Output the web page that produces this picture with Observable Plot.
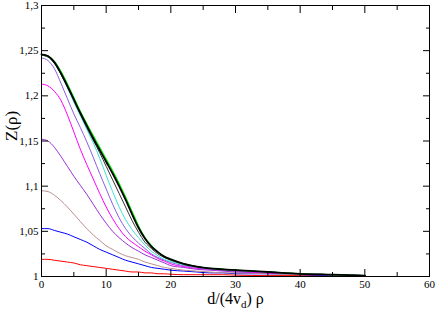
<!DOCTYPE html>
<html><head><meta charset="utf-8">
<script src="https://cdn.jsdelivr.net/npm/d3@7"></script>
<script src="https://cdn.jsdelivr.net/npm/@observablehq/plot@0.6"></script>
<style>
body{margin:0;background:#fff}
#chart svg, #chart svg text { font-family: "Liberation Serif", "Times New Roman", serif !important; }
</style>
</head><body><div id="chart"></div>
<script>
const xs = [0,1,2,3,4,5,6,7,8,9,10,11,12,13,14,15,16,17,18,19,20,22,24,26,28,30,35,40,45,50];
const zRed     = [1.019,1.019,1.018,1.017,1.016,1.015,1.013,1.012,1.011,1.010,1.009,1.008,1.007,1.006,1.005,1.005,1.004,1.004,1.003,1.003,1.0025,1.002,1.002,1.002,1.002,1.0015,1.001,1.001,1.001,1.001];
const zBlue    = [1.053,1.053,1.051,1.049,1.047,1.044,1.041,1.038,1.034,1.030,1.027,1.024,1.021,1.018,1.016,1.014,1.012,1.010,1.009,1.008,1.007,1.006,1.005,1.004,1.004,1.003,1.003,1.002,1.001,1.001];
const zBrown   = [1.095,1.094,1.090,1.084,1.077,1.069,1.061,1.053,1.046,1.040,1.034,1.030,1.026,1.023,1.021,1.019,1.016,1.014,1.012,1.010,1.009,1.007,1.006,1.005,1.004,1.004,1.003,1.002,1.002,1.001];
const zViolet  = [1.152,1.150,1.143,1.133,1.122,1.111,1.101,1.091,1.080,1.069,1.059,1.050,1.043,1.037,1.032,1.028,1.024,1.021,1.018,1.015,1.012,1.010,1.008,1.007,1.006,1.005,1.004,1.003,1.002,1.001];
const zMagenta = [1.213,1.211,1.205,1.195,1.179,1.160,1.141,1.124,1.108,1.092,1.077,1.064,1.053,1.044,1.038,1.033,1.028,1.024,1.020,1.017,1.014,1.011,1.009,1.008,1.007,1.006,1.004,1.003,1.002,1.001];
const zPurple  = [1.242,1.239,1.230,1.214,1.197,1.180,1.165,1.149,1.132,1.114,1.097,1.080,1.065,1.053,1.044,1.037,1.031,1.025,1.021,1.018,1.0155,1.012,1.010,1.008,1.007,1.006,1.005,1.003,1.002,1.001];
const zCyan    = [1.245,1.243,1.236,1.224,1.209,1.193,1.178,1.163,1.148,1.131,1.112,1.094,1.077,1.063,1.052,1.043,1.035,1.028,1.023,1.019,1.0165,1.013,1.011,1.009,1.008,1.007,1.005,1.003,1.002,1.001];
const zDark    = [1.245,1.243,1.236,1.224,1.210,1.195,1.180,1.165,1.151,1.137,1.122,1.107,1.092,1.077,1.062,1.049,1.038,1.031,1.025,1.021,1.018,1.014,1.011,1.009,1.008,1.007,1.005,1.003,1.002,1.001];
const zGreen   = [1.246,1.244,1.238,1.227,1.213,1.198,1.183,1.169,1.156,1.143,1.130,1.117,1.103,1.088,1.072,1.056,1.043,1.034,1.027,1.022,1.019,1.014,1.011,1.009,1.008,1.007,1.005,1.003,1.002,1.001];
const zBlack   = [1.246,1.244,1.237,1.225,1.211,1.196,1.181,1.167,1.153,1.140,1.127,1.114,1.100,1.085,1.069,1.054,1.042,1.033,1.027,1.022,1.019,1.014,1.011,1.009,1.008,1.007,1.005,1.003,1.002,1.001];

const xMajor = [0,10,20,30,40,50,60];
const xMinor = [5,15,25,35,45,55];
const yMajor = [1,1.05,1.1,1.15,1.2,1.25,1.3];
const yMinor = [1.025,1.075,1.125,1.175,1.225,1.275];
const yLabels = ["1","1,05","1,1","1,15","1,2","1,25","1,3"];
const xLabel = "d/(4vd) ρ";
const yLabel = "Z(ρ)";

const series = [
  {name:"red", color:"#ff0000", w:1, values:zRed},
  {name:"blue", color:"#0000ff", w:1, values:zBlue},
  {name:"brown", color:"#bc8f8f", w:1, values:zBrown},
  {name:"violet", color:"#9a30d6", w:1, values:zViolet},
  {name:"magenta", color:"#ff00ff", w:1, values:zMagenta},
  {name:"purple", color:"#8a5ee0", w:1, values:zPurple},
  {name:"cyan", color:"#40e0d0", w:1, values:zCyan},
  {name:"dark", color:"#333333", w:1, values:zDark},
  {name:"green", color:"#00ee00", w:1.3, values:zGreen},
  {name:"black", color:"#000000", w:1.8, values:zBlack}
];

const lineMarks = series.map(s => Plot.line(xs.map((x,i)=>({x, y:s.values[i]})), {
  x:"x", y:"y", stroke:s.color, strokeWidth:s.w, curve:"monotone-x"
}));

const fmtY = d => yLabels[yMajor.findIndex(v => Math.abs(v-d) < 1e-9)];
const noText = {fill:"none", stroke:"#000", label:null};

const chart = Plot.plot({
  width: 436, height: 311,
  marginLeft: 41, marginRight: 7, marginTop: 5, marginBottom: 35,
  x: {domain:[0,60]},
  y: {domain:[1,1.3]},
  style: {fontFamily:"Liberation Serif, serif", fontSize:"11px", color:"#000", background:"#fff"},
  marks: [
    ...lineMarks,
    Plot.axisX(xMajor, {anchor:"bottom", tickSize:-7, tickPadding:11, label:null, fontSize:11, stroke:"#000", fill:"#000"}),
    Plot.axisX(xMinor, {anchor:"bottom", tickSize:-4, ...noText}),
    Plot.axisX(xMajor, {anchor:"top", tickSize:-7, ...noText}),
    Plot.axisX(xMinor, {anchor:"top", tickSize:-4, ...noText}),
    Plot.axisY(yMajor, {anchor:"left", tickSize:-7, tickPadding:10, tickFormat:fmtY, label:null, fontSize:11, stroke:"#000", fill:"#000"}),
    Plot.axisY(yMinor, {anchor:"left", tickSize:-4, ...noText}),
    Plot.axisY(yMajor, {anchor:"right", tickSize:-7, ...noText}),
    Plot.axisY(yMinor, {anchor:"right", tickSize:-4, ...noText}),
    Plot.frame({stroke:"#000", strokeWidth:1}),
    Plot.text([yLabel], {frameAnchor:"left", dx:-30, rotate:-90, fontSize:17, text:d=>d}),
    Plot.text([xLabel], {frameAnchor:"bottom", dy:27, fontSize:16, text:d=>d, lineAnchor:"bottom"})
  ]
});

document.getElementById("chart").appendChild(chart);

// render the subscript d in the x label
chart.querySelectorAll("text").forEach(t => {
  if (t.textContent === xLabel) {
    while (t.firstChild) t.removeChild(t.firstChild);
    const ns = "http://www.w3.org/2000/svg";
    const a = document.createElementNS(ns, "tspan"); a.textContent = "d/(4v";
    const b = document.createElementNS(ns, "tspan"); b.textContent = "d"; b.setAttribute("dy","4"); b.setAttribute("font-size","11");
    const c = document.createElementNS(ns, "tspan"); c.textContent = ") ρ"; c.setAttribute("dy","-4");
    t.appendChild(a); t.appendChild(b); t.appendChild(c);
  }
});
</script>
</body></html>
